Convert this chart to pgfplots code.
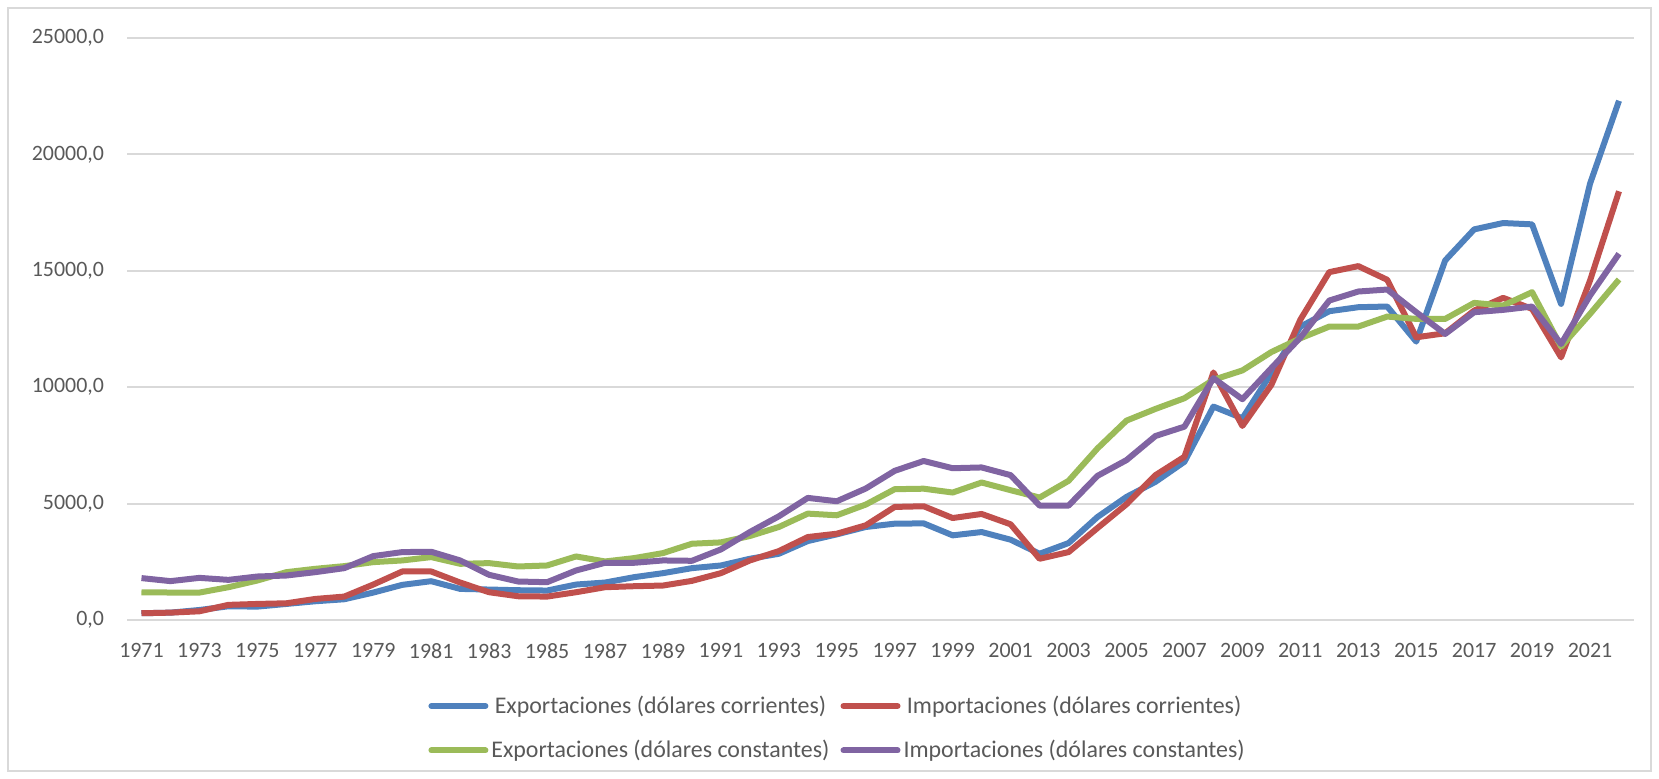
\documentclass[border=0pt]{standalone}
\usepackage{fontspec}
\setmainfont{Carlito}
\usepackage{pgfplots}
\usepackage{pgfplotstable}
\pgfplotsset{compat=1.18}
\definecolor{cblue}{HTML}{4F81BD}
\definecolor{cred}{HTML}{C0504D}
\definecolor{cgreen}{HTML}{9BBB59}
\definecolor{cpurple}{HTML}{8064A2}
\definecolor{gridgray}{HTML}{D9D9D9}
\definecolor{textgray}{HTML}{595959}
\pgfplotstableread{
year expc impc expk impk
1971 290 290 1190 1800
1972 316 316 1180 1670
1973 430 374 1178 1810
1974 589 650 1408 1724
1975 575 690 1696 1868
1976 690 718 2055 1911
1977 805 905 2199 2055
1978 891 1006 2314 2227
1979 1178 1523 2486 2745
1980 1509 2084 2558 2917
1981 1667 2084 2702 2931
1982 1336 1609 2414 2558
1983 1308 1193 2443 1940
1984 1279 1020 2299 1653
1985 1265 1006 2342 1624
1986 1523 1193 2730 2127
1987 1609 1408 2515 2457
1988 1839 1451 2658 2457
1989 2012 1480 2874 2558
1990 2227 1681 3276 2543
1991 2342 2012 3334 3032
1992 2630 2558 3607 3779
1993 2845 2960 3995 4455
1994 3391 3564 4570 5245
1995 3679 3707 4498 5101
1996 3995 4067 4958 5647
1997 4138 4857 5619 6409
1998 4150 4886 5640 6830
1999 3636 4380 5475 6520
2000 3779 4555 5906 6553
2001 3449 4110 5576 6222
2002 2845 2630 5259 4915
2003 3305 2917 5978 4915
2004 4426 3952 7372 6193
2005 5288 4972 8565 6869
2006 5935 6222 9067 7904
2007 6797 7013 9527 8306
2008 9168 10634 10318 10390
2009 8665 8335 10720 9485
2010 10605 10100 11510 10820
2011 12600 12900 12100 12130
2012 13264 14943 12604 13723
2013 13436 15201 12604 14110
2014 13465 14613 13034 14196
2015 11958 12144 12934 13221
2016 15445 12317 12934 12288
2017 16779 13292 13622 13221
2018 17052 13838 13508 13321
2019 16995 13364 14082 13465
2020 13579 11283 11742 11857
2021 18745 14584 13149 13938
2022 22304 18415 14627 15732
}\datatable
\begin{document}
\begin{tikzpicture}
\useasboundingbox (0bp,0bp) rectangle (829.5bp,389.5bp);
\draw[gridgray, line width=1bp] (4bp,4bp) rectangle (825.5bp,385.5bp);
\begin{axis}[
  at={(63.5bp,79.5bp)}, anchor=south west,
  scale only axis, width=753.25bp, height=291bp,
  xmin=1970.5, xmax=2022.5, ymin=0, ymax=25000,
  xtick={1971,1973,...,2021},
  ytick={0,5000,10000,15000,20000,25000},
  yticklabels={{0,0},{5000,0},{10000,0},{15000,0},{20000,0},{25000,0}},
  scaled y ticks=false,
  /pgf/number format/assume math mode=true,
  /pgf/number format/1000 sep={},
  major tick length=0pt,
  ymajorgrids,
  grid style={gridgray, line width=1bp},
  axis line style={draw=none},
  tick label style={font=\fontsize{11}{13}\selectfont, text=textgray},
  yticklabel shift=8bp,
  xticklabel shift=8bp,
  clip=false,
  every axis plot/.append style={line width=3bp, line join=round, mark=none},
  legend columns=2,
  legend style={draw=none, fill=none, at={(0.472,-0.186)}, anchor=center,
    font=\fontsize{12}{14}\selectfont, text=textgray, row sep=8bp,
    /tikz/every even column/.append style={column sep=4bp},
    nodes={inner xsep=1.5bp}},
  legend image code/.code={\draw[#1, line width=3bp, line cap=round] (0bp,0bp) -- (27bp,0bp);},
]
\addplot[cblue] table[x=year, y=expc] {\datatable};
\addlegendentry{Exportaciones (dólares corrientes)}
\addplot[cred] table[x=year, y=impc] {\datatable};
\addlegendentry{Importaciones (dólares corrientes)}
\addplot[cgreen] table[x=year, y=expk] {\datatable};
\addlegendentry{Exportaciones (dólares constantes)}
\addplot[cpurple] table[x=year, y=impk] {\datatable};
\addlegendentry{Importaciones (dólares constantes)}
\end{axis}
\end{tikzpicture}
\end{document}
